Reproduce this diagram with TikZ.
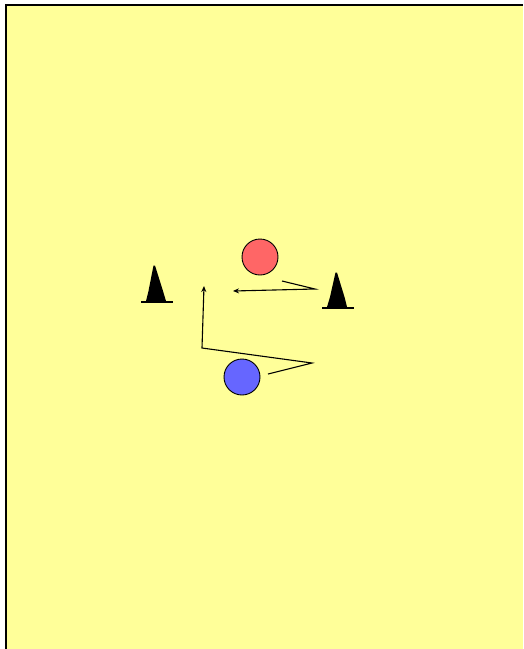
\documentclass[tikz,border=0pt]{standalone}
\usetikzlibrary{arrows.meta}
\definecolor{pitch}{RGB}{255,255,153}
\definecolor{redp}{RGB}{255,102,102}
\definecolor{bluep}{RGB}{102,102,255}
\begin{document}
\begin{tikzpicture}[x=1pt,y=-1pt,
  player/.style={circle,draw=black,line width=0.9pt,minimum size=36pt,inner sep=0pt},
  run/.style={draw=black,line width=1.1pt,-{Stealth[length=6pt,width=5pt]}},
  conebody/.style={fill=black}]
\useasboundingbox (0,0) rectangle (523,649);
\fill[white] (0,0) rectangle (523,649);
\fill[pitch] (6,5) rectangle (523,649);
\draw[black,line width=1.6pt] (6,649) -- (6,5) -- (523,5);
% players
\node[player,fill=redp] (red) at (260,257) {};
\node[player,fill=bluep] (blue) at (242,377) {};
% cones
\fill[conebody] (153.5,265.5) -- (148.5,291) -- (146,301) -- (166,301) -- (163,291) -- (155,265.5) -- cycle;
\fill[conebody] (141,300.5) rectangle (173,303);
\fill[conebody] (335.5,272.5) -- (330,297) -- (327,307) -- (347,307) -- (344.5,297) -- (337,272.5) -- cycle;
\fill[conebody] (322,306.5) rectangle (354,309);
% runs
\coordinate (a1) at (282,281);
\coordinate (a2) at (315,289);
\coordinate (a3) at (233,291);
\draw[run] (a1) -- (a2) -- (a3);
\coordinate (b1) at (268,374);
\coordinate (b2) at (312,363);
\coordinate (b3) at (202,348);
\coordinate (b4) at (204,286);
\draw[run] (b1) -- (b2) -- (b3) -- (b4);
\end{tikzpicture}
\end{document}
